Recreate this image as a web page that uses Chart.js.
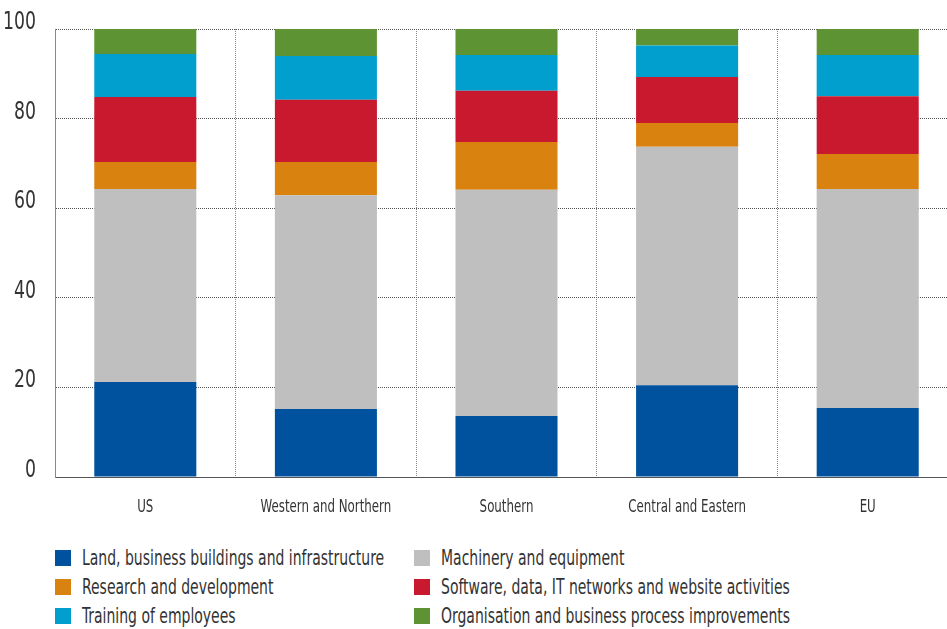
<!DOCTYPE html>
<html>
<head>
<meta charset="utf-8">
<script src="https://cdn.jsdelivr.net/npm/chart.js@4/dist/chart.umd.min.js"></script>
<style>
  html, body { margin: 0; padding: 0; background: #fff; overflow: hidden; }
  body { width: 947px; height: 629px; position: relative; font-family: "DejaVu Sans Condensed", sans-serif; color: #333; }
  .wrap { position: absolute; left: 0; top: 0; width: 958px; height: 530px; }
  .legend { position: absolute; left: 55px; top: 546px; display: grid; grid-template-columns: 359px 420px; row-gap: 6px; }
  .item { display: flex; align-items: center; height: 23px; font-size: 21px; white-space: nowrap; }
  .box { width: 16px; height: 16px; margin-right: 11px; flex: none; }
  .txt { display: inline-block; transform: scaleX(0.74); transform-origin: left center; }
</style>
</head>
<body>
<div class="wrap"><canvas id="chart"></canvas></div>
<div class="legend" id="legend"></div>
<script>
const regions = ['US', 'Western and Northern', 'Southern', 'Central and Eastern', 'EU'];
const seriesNames = [
  'Land, business buildings and infrastructure',
  'Machinery and equipment',
  'Research and development',
  'Software, data, IT networks and website activities',
  'Training of employees',
  'Organisation and business process improvements'
];
const land = [21.2, 15.2, 13.6, 20.5, 15.4];
const machinery = [43.1, 47.7, 50.5, 53.2, 48.9];
const research = [6.0, 7.4, 10.7, 5.3, 7.8];
const software = [14.5, 13.9, 11.4, 10.3, 12.9];
const training = [9.6, 9.8, 8.0, 7.0, 9.2];
const organisation = [5.6, 6.0, 5.8, 3.7, 5.8];
const yTicks = [0, 20, 40, 60, 80, 100];

const colors = ['#00529f', '#bfbfbf', '#d9820f', '#c8192e', '#009fce', '#5e9333'];
const values = [land, machinery, research, software, training, organisation];

const datasets = values.map((v, i) => ({
  label: seriesNames[i],
  data: v,
  backgroundColor: colors[i],
  categoryPercentage: 1,
  barPercentage: 0.565,
  borderWidth: 0
}));

const font = "'DejaVu Sans Condensed', sans-serif";

// the font in the original is a narrow one, so labels are squeezed a bit
const narrowLabels = {
  id: 'narrowLabels',
  afterDraw: chart => {
    const ctx = chart.ctx;
    const x = chart.scales.x, y = chart.scales.y;
    ctx.save();
    ctx.fillStyle = '#333';
    ctx.font = "18px " + font;
    ctx.textAlign = 'center';
    ctx.textBaseline = 'middle';
    regions.forEach((r, i) => {
      ctx.save();
      ctx.translate(x.getPixelForValue(i), 507);
      ctx.scale(0.73, 1);
      ctx.fillText(r, 0, 0);
      ctx.restore();
    });
    ctx.font = "24px " + font;
    ctx.textAlign = 'right';
    ctx.textBaseline = 'alphabetic';
    yTicks.forEach(v => {
      ctx.save();
      ctx.translate(36, y.getPixelForValue(v));
      ctx.scale(0.8, 1);
      ctx.fillText(String(v), 0, 0);
      ctx.restore();
    });
    ctx.restore();
  }
};

new Chart(document.getElementById('chart'), {
  type: 'bar',
  data: { labels: regions, datasets: datasets },
  options: {
    responsive: true,
    maintainAspectRatio: false,
    animation: false,
    layout: { padding: { top: 29, right: 0, left: 0, bottom: 0 } },
    plugins: { legend: { display: false }, tooltip: { enabled: false } },
    scales: {
      x: {
        stacked: true,
        grid: { color: '#888', lineWidth: 1, drawTicks: false, offset: true },
        border: { display: true, color: '#555', dash: [1, 1] },
        ticks: { display: false },
        afterFit: s => { s.height = 53; }
      },
      y: {
        stacked: true,
        min: 0,
        max: 100,
        afterBuildTicks: s => { s.ticks = yTicks.map(v => ({ value: v })); },
        grid: { color: '#555', lineWidth: 1, drawTicks: false },
        border: { display: true, color: '#888', dash: [1, 1] },
        ticks: { display: false },
        afterFit: s => { s.width = 55; }
      }
    }
  },
  plugins: [narrowLabels]
});

const legend = document.getElementById('legend');
seriesNames.forEach((name, i) => {
  const item = document.createElement('div');
  item.className = 'item';
  item.innerHTML = `<span class="box" style="background:${colors[i]}"></span><span class="txt">${name}</span>`;
  legend.appendChild(item);
});
</script>
</body>
</html>
